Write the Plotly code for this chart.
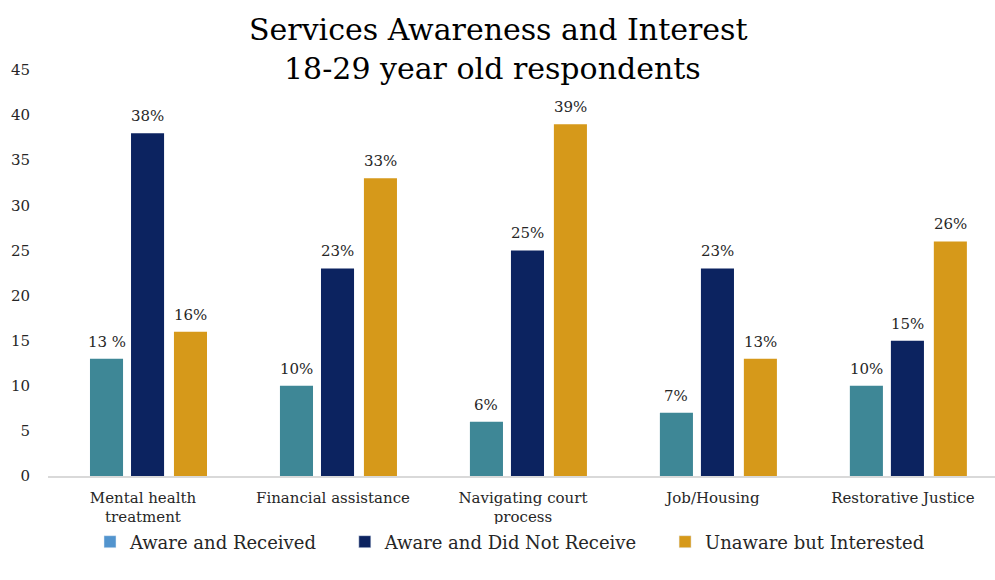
import plotly.graph_objects as go

categories = ["Mental health<br>treatment", "Financial assistance", "Navigating court<br>process", "Job/Housing", "Restorative Justice"]
series_names = ["Aware and Received", "Aware and Did Not Receive", "Unaware but Interested"]
aware_received = [13, 10, 6, 7, 10]
aware_not_received = [38, 23, 25, 23, 15]
unaware_interested = [16, 33, 39, 13, 26]
labels_received = ["13 %", "10%", "6%", "7%", "10%"]
labels_not_received = ["38%", "23%", "25%", "23%", "15%"]
labels_interested = ["16%", "33%", "39%", "13%", "26%"]

bar_colors = ["#3E8796", "#0C2360", "#D6991A"]
legend_colors = ["#5294CE", "#0C2360", "#D6991A"]
font_family = "DejaVu Serif, serif"
text_color = "#262626"

bar_width = 0.174
bar_offsets = [-0.279, -0.063, 0.163]

fig = go.Figure()
data = [(aware_received, labels_received), (aware_not_received, labels_not_received), (unaware_interested, labels_interested)]
annotations = []
for i, (vals, labs) in enumerate(data):
    fig.add_trace(go.Bar(
        x=categories, y=vals,
        marker=dict(color=bar_colors[i], line=dict(width=0)),
        width=bar_width, offset=bar_offsets[i],
        name=series_names[i], showlegend=False,
    ))
    for j, (v, lab) in enumerate(zip(vals, labs)):
        annotations.append(dict(
            x=j + bar_offsets[i] + bar_width / 2, xref="x", y=v, yref="y",
            text=lab, showarrow=False, xanchor="center", yanchor="bottom", yshift=6,
            font=dict(family=font_family, size=15, color=text_color),
        ))
for i in range(3):
    fig.add_trace(go.Bar(
        x=[categories[0]], y=[None], name=series_names[i] + "    ",
        width=bar_width, offset=bar_offsets[i],
        marker=dict(color=legend_colors[i]), showlegend=True,
    ))

plot_top, plot_bottom = 70, 476
ph = plot_bottom - plot_top
left = 48

annotations += [
    dict(text="Services Awareness and Interest", x=(498 - left) / 947, xref="paper",
         y=(plot_bottom - 30) / ph, yref="paper",
         yanchor="middle", showarrow=False, font=dict(family=font_family, size=30, color="#000000")),
    dict(text="18-29 year old respondents", x=(492 - left) / 947, xref="paper",
         y=(plot_bottom - 69) / ph, yref="paper",
         yanchor="middle", showarrow=False, font=dict(family=font_family, size=30, color="#000000")),
]

fig.update_layout(
    width=995, height=580,
    paper_bgcolor="white", plot_bgcolor="white",
    margin=dict(l=left, r=0, t=plot_top, b=580 - plot_bottom),
    barmode="overlay",
    font=dict(family=font_family, color=text_color),
    showlegend=True,
    legend=dict(orientation="h", x=0.5, xanchor="center", y=(plot_bottom - 542) / ph, yanchor="middle",
                font=dict(family=font_family, size=18, color=text_color),
                itemwidth=30, traceorder="normal"),
    xaxis=dict(showline=True, linecolor="#D9D9D9", linewidth=1.5, ticks="",
               range=[-0.5, 4.485], ticklabelstandoff=7,
               tickfont=dict(family=font_family, size=15, color=text_color)),
    yaxis=dict(range=[0, 45], dtick=5, showgrid=False, zeroline=False, showline=False,
               tickfont=dict(family=font_family, size=15, color=text_color), ticklabelstandoff=17),
    annotations=annotations,
)

fig.write_html("out.html", config={"displayModeBar": False},
               post_script="document.body.style.margin='0';")
